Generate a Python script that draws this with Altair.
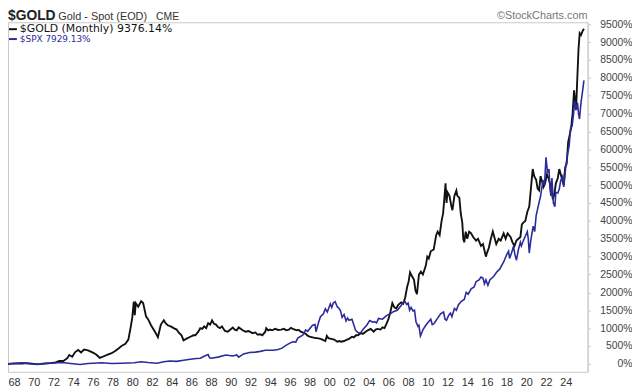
import altair as alt
import pandas as pd

# ---- data: (year position, % change) ----
gold_points = [
    (1967.38, 0), (1968.3, 15), (1968.8, 10), (1969.2, 20), (1969.6, 15), (1970.2, -5),
    (1970.7, 0), (1971.2, 10), (1971.7, 20), (1972.2, 40), (1972.6, 85), (1973.0, 80),
    (1973.4, 160), (1973.6, 250), (1973.9, 200), (1974.2, 330), (1974.5, 390), (1974.8, 320),
    (1975.1, 400), (1975.5, 380), (1975.9, 330), (1976.3, 270), (1976.7, 170), (1977.0, 200),
    (1977.5, 260), (1977.9, 300), (1978.3, 370), (1978.6, 430), (1978.9, 500), (1979.3, 560),
    (1979.6, 680), (1979.85, 1050), (1980.0, 1300), (1980.15, 1740), (1980.25, 1360),
    (1980.35, 1700), (1980.6, 1600), (1980.9, 1750), (1981.1, 1700), (1981.4, 1320),
    (1981.6, 1250), (1981.9, 1080), (1982.3, 900), (1982.6, 750), (1982.9, 1100),
    (1983.2, 1220), (1983.4, 1130), (1983.6, 1080), (1983.9, 1050), (1984.2, 1000),
    (1984.5, 960), (1984.7, 880), (1985.0, 800), (1985.2, 660), (1985.6, 720), (1985.9, 760),
    (1986.2, 800), (1986.4, 800), (1986.7, 900), (1986.9, 1000), (1987.1, 980), (1987.3, 1050),
    (1987.5, 1000), (1987.7, 1140), (1987.9, 1100), (1988.1, 1220), (1988.3, 1120),
    (1988.5, 1100), (1988.7, 1030), (1988.9, 1000), (1989.1, 1050), (1989.4, 920),
    (1989.7, 900), (1989.9, 950), (1990.2, 1020), (1990.4, 960), (1990.6, 940), (1990.8, 1020),
    (1991.0, 980), (1991.2, 940), (1991.5, 900), (1991.8, 920), (1992.2, 860), (1992.5, 880),
    (1992.7, 820), (1993.0, 830), (1993.2, 800), (1993.5, 900), (1993.6, 1000), (1993.8, 940),
    (1994.0, 960), (1994.2, 940), (1994.5, 980), (1994.8, 950), (1995.1, 960), (1995.4, 980),
    (1995.6, 940), (1995.9, 960), (1996.1, 1010), (1996.3, 980), (1996.5, 960), (1996.7, 940),
    (1996.9, 950), (1997.1, 900), (1997.3, 880), (1997.6, 840), (1997.8, 790), (1998.0, 760),
    (1998.3, 740), (1998.6, 720), (1998.8, 720), (1999.1, 700), (1999.3, 680), (1999.6, 640),
    (1999.75, 780), (1999.9, 720), (2000.2, 700), (2000.5, 680), (2000.8, 620), (2001.0, 640),
    (2001.2, 620), (2001.5, 640), (2001.8, 680), (2002.0, 700), (2002.3, 760), (2002.5, 740),
    (2002.7, 800), (2002.9, 800), (2003.2, 860), (2003.4, 840), (2003.7, 900), (2003.9, 940),
    (2004.2, 980), (2004.5, 900), (2004.7, 960), (2004.9, 980), (2005.2, 960), (2005.4, 1020),
    (2005.6, 1000), (2005.8, 1120), (2006.0, 1250), (2006.2, 1450), (2006.4, 1700),
    (2006.6, 1580), (2006.8, 1550), (2007.0, 1650), (2007.3, 1720), (2007.5, 1680),
    (2007.7, 1850), (2007.9, 2150), (2008.05, 2300), (2008.2, 2560), (2008.4, 2450),
    (2008.6, 2350), (2008.75, 2050), (2008.9, 1950), (2009.1, 2500), (2009.3, 2580),
    (2009.5, 2500), (2009.8, 2750), (2009.95, 3000), (2010.1, 2950), (2010.3, 3150),
    (2010.6, 3200), (2010.85, 3600), (2011.0, 3700), (2011.2, 3600), (2011.4, 4000),
    (2011.55, 4200), (2011.7, 4700), (2011.8, 5050), (2011.9, 4500), (2012.0, 4800),
    (2012.2, 4700), (2012.4, 4400), (2012.5, 4300), (2012.7, 4700), (2012.9, 4850),
    (2013.0, 4700), (2013.2, 4650), (2013.35, 4200), (2013.5, 3950), (2013.6, 3500),
    (2013.7, 3400), (2013.85, 3700), (2014.0, 3500), (2014.2, 3700), (2014.4, 3650),
    (2014.6, 3550), (2014.9, 3450), (2015.1, 3500), (2015.4, 3300), (2015.6, 3350),
    (2015.9, 3000), (2016.0, 3100), (2016.2, 3250), (2016.4, 3500), (2016.6, 3700),
    (2016.8, 3500), (2016.95, 3350), (2017.2, 3500), (2017.4, 3450), (2017.7, 3650),
    (2017.9, 3500), (2018.1, 3650), (2018.4, 3550), (2018.6, 3400), (2018.8, 3300),
    (2019.0, 3450), (2019.2, 3500), (2019.4, 3550), (2019.55, 3900), (2019.7, 3950),
    (2019.9, 4000), (2020.1, 4250), (2020.3, 4400), (2020.5, 5000), (2020.65, 5450),
    (2020.8, 5250), (2021.0, 5150), (2021.15, 4900), (2021.3, 4850), (2021.45, 5250),
    (2021.6, 5100), (2021.75, 4950), (2021.9, 5050), (2022.1, 5300), (2022.25, 5200),
    (2022.4, 5050), (2022.55, 4850), (2022.7, 4600), (2022.85, 4750), (2023.0, 5050),
    (2023.2, 5200), (2023.35, 5450), (2023.5, 5300), (2023.65, 5150), (2023.8, 5000),
    (2023.95, 5500), (2024.1, 5600), (2024.25, 6200), (2024.4, 6400), (2024.55, 6600),
    (2024.7, 7000), (2024.85, 7650), (2024.95, 7350), (2025.05, 7100), (2025.15, 7800),
    (2025.3, 8800), (2025.42, 9250), (2025.55, 9200), (2025.7, 9300), (2025.85, 9376),
]

spx_points = [
    (1967.38, 0), (1968.9, 30), (1969.5, 5), (1970.4, -15), (1971.3, 20), (1972.9, 40),
    (1973.5, 20), (1974.7, -15), (1975.5, 10), (1976.9, 30), (1977.9, 10), (1978.9, 20),
    (1980.2, 30), (1980.9, 60), (1981.6, 40), (1982.5, 20), (1983.2, 60), (1983.8, 80),
    (1984.5, 70), (1985.2, 100), (1985.9, 130), (1986.5, 150), (1986.9, 160), (1987.4, 230),
    (1987.7, 260), (1987.85, 170), (1988.0, 160), (1988.7, 190), (1989.5, 250), (1990.2, 220),
    (1990.6, 250), (1990.8, 190), (1991.3, 280), (1991.9, 320), (1992.5, 330), (1993.0, 350),
    (1993.5, 380), (1994.3, 380), (1994.8, 400), (1995.2, 440), (1995.6, 520), (1996.0, 580),
    (1996.3, 620), (1996.6, 610), (1996.8, 720), (1997.3, 800), (1997.6, 950), (1997.8, 910),
    (1998.3, 1080), (1998.55, 1100), (1998.65, 900), (1998.9, 1150), (1999.1, 1320),
    (1999.4, 1400), (1999.6, 1540), (1999.8, 1450), (2000.1, 1680), (2000.25, 1580),
    (2000.4, 1700), (2000.6, 1740), (2000.8, 1600), (2001.0, 1550), (2001.15, 1480),
    (2001.3, 1300), (2001.5, 1380), (2001.7, 1200), (2001.85, 1280), (2002.0, 1220),
    (2002.3, 1250), (2002.5, 1080), (2002.65, 950), (2002.8, 900), (2003.0, 860),
    (2003.2, 880), (2003.5, 990), (2003.8, 1080), (2004.1, 1210), (2004.4, 1170),
    (2004.6, 1180), (2004.8, 1150), (2005.0, 1270), (2005.4, 1250), (2005.8, 1350),
    (2006.2, 1400), (2006.5, 1460), (2006.9, 1500), (2007.3, 1630), (2007.5, 1720),
    (2007.7, 1740), (2007.85, 1660), (2008.0, 1700), (2008.15, 1500), (2008.3, 1580),
    (2008.5, 1480), (2008.65, 1500), (2008.8, 1180), (2009.0, 1050), (2009.1, 1080),
    (2009.25, 780), (2009.4, 880), (2009.5, 950), (2009.8, 1080), (2010.0, 1150),
    (2010.3, 1250), (2010.45, 1100), (2010.6, 1120), (2010.8, 1200), (2011.0, 1280),
    (2011.3, 1400), (2011.6, 1450), (2011.75, 1250), (2011.9, 1220), (2012.1, 1350),
    (2012.3, 1420), (2012.45, 1320), (2012.7, 1550), (2012.9, 1500), (2013.1, 1650),
    (2013.4, 1750), (2013.7, 1800), (2013.9, 2000), (2014.1, 1950), (2014.4, 2100),
    (2014.7, 2150), (2014.9, 2300), (2015.2, 2350), (2015.4, 2430), (2015.6, 2400),
    (2015.75, 2240), (2015.9, 2350), (2016.1, 2200), (2016.3, 2350), (2016.7, 2450),
    (2017.0, 2570), (2017.3, 2650), (2017.7, 2850), (2018.0, 3050), (2018.2, 3150),
    (2018.3, 2950), (2018.5, 3100), (2018.7, 3290), (2018.85, 3050), (2019.0, 2900),
    (2019.2, 3200), (2019.4, 3400), (2019.5, 3300), (2019.7, 3450), (2019.9, 3570),
    (2020.1, 3700), (2020.2, 3500), (2020.3, 3100), (2020.45, 3450), (2020.7, 3850),
    (2020.85, 3700), (2021.0, 4150), (2021.2, 4400), (2021.45, 4700), (2021.7, 5140),
    (2021.85, 5000), (2022.0, 5780), (2022.15, 5350), (2022.3, 5450), (2022.4, 4900),
    (2022.5, 4700), (2022.6, 5200), (2022.75, 4500), (2022.9, 4400), (2023.0, 4800),
    (2023.2, 4780), (2023.35, 4900), (2023.5, 5140), (2023.7, 5250), (2023.8, 4950),
    (2024.0, 5500), (2024.2, 5880), (2024.35, 6100), (2024.5, 6600), (2024.65, 6650),
    (2024.8, 7000), (2024.9, 7350), (2025.05, 7100), (2025.2, 7300), (2025.3, 7000),
    (2025.4, 6850), (2025.55, 7300), (2025.7, 7600), (2025.85, 7929),
]

x_tick_years = list(range(1968, 2025, 2))
y_ticks = list(range(0, 9501, 500))

title_main = "$GOLD"
title_sub = "Gold - Spot (EOD)"
title_exch = "CME"
credit = "©StockCharts.com"
legend_gold = "$GOLD (Monthly) 9376.14%"
legend_spx = "$SPX 7929.13%"

GOLD_COLOR = "#111111"
SPX_COLOR = "#2b2b9a"

gold_df = pd.DataFrame(gold_points, columns=["year", "pct"])
spx_df = pd.DataFrame(spx_points, columns=["year", "pct"])

W, H = 587, 354
xscale = alt.Scale(domain=[1967.38, 2026.22], nice=False, zero=False)
yscale = alt.Scale(domain=[-221, 9555], nice=False, zero=False)

xaxis = alt.Axis(values=x_tick_years, labelExpr="substring(toString(datum.value), 2, 4)",
                 ticks=False, domain=False, grid=False, labelFont="Liberation Sans",
                 labelFontSize=11, labelColor="#333333", labelPadding=5,
                 labelOverlap=False, labelFlush=False, title=None)
yaxis = alt.Axis(orient="right", values=y_ticks, labelExpr="datum.value + '%'",
                 grid=False, ticks=True, tickSize=3, tickColor="#cccccc",
                 domain=True, domainColor="#cccccc", labelAlign="right", labelPadding=42,
                 labelFont="Liberation Sans", labelFontSize=10.5, labelColor="#444444",
                 labelOverlap=False, labelFlush=False, title=None)


def line(df, color, width):
    return alt.Chart(df).mark_line(color=color, strokeWidth=width, clip=True).encode(
        x=alt.X("year:Q", scale=xscale, axis=xaxis),
        y=alt.Y("pct:Q", scale=yscale, axis=yaxis),
    )


gold_line = line(gold_df, GOLD_COLOR, 1.9)
spx_line = line(spx_df, SPX_COLOR, 1.6)


def label(text, x, y, size, color, font="Liberation Sans", weight="normal", align="left",
          baseline="alphabetic"):
    return alt.Chart(pd.DataFrame({"t": [text]})).mark_text(
        align=align, baseline=baseline, font=font, fontSize=size, color=color,
        fontWeight=weight,
    ).encode(x=alt.value(x), y=alt.value(y), text="t:N")


def dash(y, color):
    return alt.Chart(pd.DataFrame({"a": [0]})).mark_rule(color=color, strokeWidth=2).encode(
        x=alt.value(1), x2=alt.value(9), y=alt.value(y))


texts = [
    label(title_main, 0, -2, 14, "#222222", weight="bold"),
    label(title_sub, 51, -2, 11, "#333333"),
    label(title_exch, 150, -2, 10.5, "#333333"),
    label(credit, 587, -3, 11, "#777777", align="right"),
    dash(7, GOLD_COLOR),
    label(legend_gold, 12, 7, 11, GOLD_COLOR, font="DejaVu Sans", baseline="middle"),
    dash(17, SPX_COLOR),
    label(legend_spx, 12, 17, 9, SPX_COLOR, font="DejaVu Sans", baseline="middle"),
]

chart = alt.layer(gold_line, spx_line, *texts).properties(
    width=W, height=H,
    autosize=alt.AutoSizeParams(type="none"),
    padding={"left": 0, "top": 12, "right": 45, "bottom": 18},
    background="white",
).configure_view(stroke="#c8c8c8", strokeWidth=1)

chart.save("out.html", embed_options={"renderer": "svg", "actions": False})
